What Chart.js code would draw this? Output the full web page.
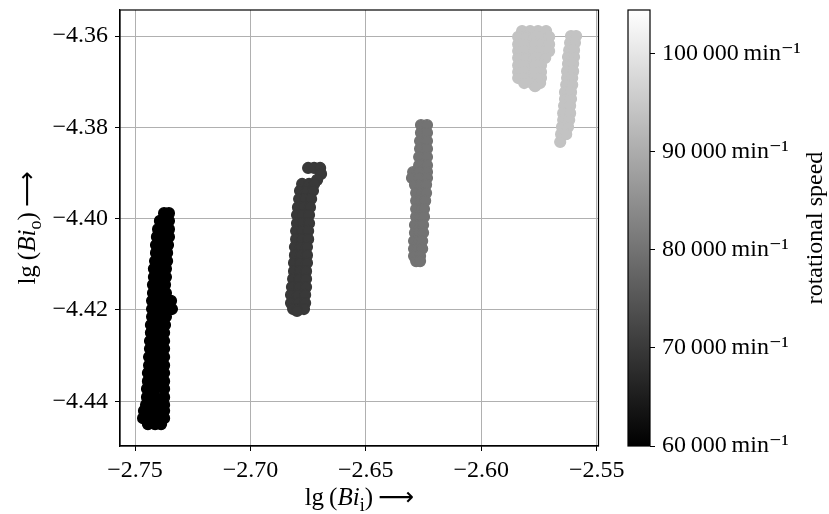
<!DOCTYPE html>
<html>
<head>
<meta charset="utf-8">
<script src="https://cdn.jsdelivr.net/npm/chart.js@4.4.1/dist/chart.umd.min.js"></script>
<style>
  html, body { margin: 0; padding: 0; background: #fff; }
  #wrap { position: relative; width: 829px; height: 514px; }
  #main { position: absolute; left: 0; top: 0; }
  #bar { position: absolute; left: 620px; top: 0; }
</style>
</head>
<body>
<div id="wrap">
  <canvas id="main" width="829" height="514"></canvas>
  <canvas id="bar" width="209" height="514"></canvas>
</div>
<script>
// axis ranges and ticks
const xMin = -2.7565, xMax = -2.5492;
const yMin = -4.4498, yMax = -4.3543;
const xTicks = [-2.75, -2.70, -2.65, -2.60, -2.55];
const yTicks = [-4.44, -4.42, -4.40, -4.38, -4.36];

// colorbar
const cbMin = 60000, cbMax = 104400;
const cbTicks = [60000, 70000, 80000, 90000, 100000];

// measured points, one row = [lg(Bi_o), lg(Bi_i) values...]
const rows60k = [
  [-4.3988, -2.7374, -2.7353],
  [-4.4005, -2.7392, -2.7353],
  [-4.4023, -2.7400, -2.7374, -2.7353],
  [-4.4040, -2.7405, -2.7379, -2.7353],
  [-4.4058, -2.7409, -2.7383, -2.7357],
  [-4.4075, -2.7409, -2.7383, -2.7361],
  [-4.4093, -2.7413, -2.7387, -2.7361],
  [-4.4110, -2.7418, -2.7392, -2.7366],
  [-4.4128, -2.7418, -2.7392, -2.7366],
  [-4.4145, -2.7422, -2.7396, -2.7370],
  [-4.4163, -2.7422, -2.7396, -2.7366],
  [-4.4180, -2.7426, -2.7396, -2.7361, -2.7344],
  [-4.4198, -2.7426, -2.7396, -2.7366, -2.7340],
  [-4.4215, -2.7426, -2.7396, -2.7366],
  [-4.4233, -2.7431, -2.7400, -2.7370],
  [-4.4250, -2.7431, -2.7405, -2.7374],
  [-4.4268, -2.7435, -2.7405, -2.7374],
  [-4.4285, -2.7435, -2.7405, -2.7374],
  [-4.4303, -2.7439, -2.7409, -2.7374],
  [-4.4321, -2.7439, -2.7409, -2.7374],
  [-4.4338, -2.7444, -2.7409, -2.7374],
  [-4.4356, -2.7444, -2.7409, -2.7374],
  [-4.4373, -2.7448, -2.7413, -2.7374],
  [-4.4391, -2.7448, -2.7413, -2.7374],
  [-4.4408, -2.7452, -2.7413, -2.7374],
  [-4.4421, -2.7461, -2.7426, -2.7400, -2.7374],
  [-4.4437, -2.7465, -2.7435, -2.7405, -2.7374],
  [-4.4450, -2.7444, -2.7413, -2.7387]
];

const rows70k = [
  [-4.3889, -2.6750, -2.6724, -2.6698],
  [-4.3902, -2.6694],
  [-4.3915, -2.6711],
  [-4.3924, -2.6776, -2.6746, -2.6724],
  [-4.3939, -2.6785, -2.6755, -2.6729],
  [-4.3957, -2.6789, -2.6763, -2.6737],
  [-4.3975, -2.6794, -2.6768, -2.6742],
  [-4.3992, -2.6798, -2.6772, -2.6746],
  [-4.4010, -2.6798, -2.6772, -2.6746],
  [-4.4027, -2.6802, -2.6776, -2.6750],
  [-4.4045, -2.6802, -2.6776, -2.6750],
  [-4.4062, -2.6807, -2.6781, -2.6755],
  [-4.4080, -2.6807, -2.6781, -2.6755],
  [-4.4097, -2.6811, -2.6785, -2.6755],
  [-4.4115, -2.6811, -2.6785, -2.6759],
  [-4.4132, -2.6815, -2.6789, -2.6759],
  [-4.4150, -2.6820, -2.6789, -2.6759],
  [-4.4167, -2.6824, -2.6794, -2.6763],
  [-4.4185, -2.6824, -2.6794, -2.6763],
  [-4.4198, -2.6815, -2.6789, -2.6768],
  [-4.4202, -2.6798]
];

const rows80k = [
  [-4.3795, -2.6261, -2.6235],
  [-4.3812, -2.6261, -2.6235],
  [-4.3830, -2.6265, -2.6235],
  [-4.3847, -2.6265, -2.6235],
  [-4.3865, -2.6269, -2.6235],
  [-4.3883, -2.6269, -2.6235],
  [-4.3898, -2.6295, -2.6269, -2.6235],
  [-4.3911, -2.6300, -2.6269, -2.6235],
  [-4.3926, -2.6287, -2.6261, -2.6239],
  [-4.3944, -2.6282, -2.6261, -2.6239],
  [-4.3961, -2.6282, -2.6261, -2.6243],
  [-4.3979, -2.6282, -2.6261, -2.6248],
  [-4.3996, -2.6282, -2.6265, -2.6248],
  [-4.4014, -2.6287, -2.6265, -2.6252],
  [-4.4031, -2.6287, -2.6269, -2.6252],
  [-4.4049, -2.6291, -2.6274, -2.6256],
  [-4.4066, -2.6291, -2.6274, -2.6256],
  [-4.4082, -2.6291, -2.6265],
  [-4.4093, -2.6282, -2.6265]
];

const rows94kBlock = [
  [-4.3589, -2.5823, -2.5788, -2.5754, -2.5719],
  [-4.3602, -2.5840, -2.5806, -2.5771, -2.5737, -2.5706],
  [-4.3618, -2.5840, -2.5806, -2.5771, -2.5737, -2.5706],
  [-4.3633, -2.5840, -2.5806, -2.5771, -2.5737, -2.5706],
  [-4.3648, -2.5840, -2.5806, -2.5771, -2.5737, -2.5723],
  [-4.3664, -2.5840, -2.5806, -2.5771, -2.5741],
  [-4.3679, -2.5840, -2.5806, -2.5771, -2.5741],
  [-4.3692, -2.5840, -2.5806, -2.5771, -2.5741],
  [-4.3703, -2.5814, -2.5780, -2.5745],
  [-4.3710, -2.5767]
];

const rows94kStrip = [
  [-4.3600, -2.5611, -2.5589],
  [-4.3615, -2.5615, -2.5594],
  [-4.3631, -2.5619, -2.5598],
  [-4.3646, -2.5624, -2.5598],
  [-4.3661, -2.5624, -2.5602],
  [-4.3677, -2.5628, -2.5602],
  [-4.3692, -2.5628, -2.5606],
  [-4.3707, -2.5632, -2.5606],
  [-4.3723, -2.5637, -2.5611],
  [-4.3738, -2.5637, -2.5611],
  [-4.3753, -2.5641, -2.5615],
  [-4.3769, -2.5645, -2.5615],
  [-4.3784, -2.5645, -2.5619],
  [-4.3799, -2.5650, -2.5624],
  [-4.3815, -2.5654, -2.5632],
  [-4.3832, -2.5658]
];

const speeds = [60000, 70000, 80000, 94000];
const clusters = [rows60k, rows70k, rows80k, rows94kBlock.concat(rows94kStrip)];

const FONT = "'Liberation Serif', 'DejaVu Serif', serif";

function gray(v) {
    const c = Math.round((v - cbMin) / (cbMax - cbMin) * 255);
    return `rgb(${c},${c},${c})`;
}

function toPoints(rows) {
    return rows.flatMap(([y, ...xs]) => xs.map(x => ({ x, y })));
}

const fmt2 = v => v.toFixed(2).replace('-', '\u2212');
const fmtSpeed = v => String(v).replace(/\B(?=(\d{3})+(?!\d))/g, '\u2009') + '\u2009min\u207B\u00B9';

// text with italic / subscript parts
function drawMixed(ctx, segs, cx, baseline, size) {
    const fontOf = s => s.st === 'it' ? `italic ${size}px ${FONT}`
        : s.st === 'sub' ? `${Math.round(size * 0.7)}px ${FONT}`
        : s.st === 'arrow' ? `${size}px 'DejaVu Sans'` : `${size}px ${FONT}`;
    let w = 0;
    segs.forEach(s => { ctx.font = fontOf(s); s.w = ctx.measureText(s.t).width; w += s.w; });
    let x = cx - w / 2;
    ctx.textAlign = 'left';
    ctx.textBaseline = 'alphabetic';
    segs.forEach(s => {
        ctx.font = fontOf(s);
        ctx.fillText(s.t, x, baseline + (s.st === 'sub' ? size * 0.22 : 0));
        x += s.w;
    });
}

const xTitle = [{ t: 'lg\u2009(' }, { t: 'Bi', st: 'it' }, { t: 'i', st: 'sub' }, { t: ')\u2009' }, { t: '\u27F6', st: 'arrow' }];
const yTitle = [{ t: 'lg\u2009(' }, { t: 'Bi', st: 'it' }, { t: 'o', st: 'sub' }, { t: ')\u2009' }, { t: '\u27F6', st: 'arrow' }];

const frameAndTitles = {
    id: 'frameAndTitles',
    afterDraw(chart) {
        const { ctx, chartArea: a } = chart;
        ctx.save();
        ctx.strokeStyle = '#000';
        ctx.lineWidth = 1.2;
        ctx.strokeRect(a.left, a.top, a.right - a.left, a.bottom - a.top);
        ctx.fillStyle = '#000';
        drawMixed(ctx, xTitle, (a.left + a.right) / 2, 505, 25);
        ctx.translate(35, (a.top + a.bottom) / 2);
        ctx.rotate(-Math.PI / 2);
        drawMixed(ctx, yTitle, 0, 0, 25);
        ctx.restore();
    }
};

const tickFont = { family: FONT, size: 24 };

new Chart(document.getElementById('main'), {
    type: 'scatter',
    data: {
        datasets: clusters.map((rows, i) => ({
            data: toPoints(rows),
            backgroundColor: gray(speeds[i]),
            borderColor: gray(speeds[i]),
            borderWidth: 1.4,
            pointRadius: 5.4,
            pointHoverRadius: 5.4
        }))
    },
    options: {
        responsive: false,
        animation: false,
        events: [],
        layout: { padding: { left: 0, top: 10, right: 230.5, bottom: 0 } },
        plugins: { legend: { display: false }, tooltip: { enabled: false } },
        scales: {
            x: {
                type: 'linear',
                min: xMin,
                max: xMax,
                afterBuildTicks: s => { s.ticks = xTicks.map(v => ({ value: v })); },
                afterFit: s => { s.height = 68; s.paddingLeft = 0; s.paddingRight = 0; },
                grid: { color: '#b0b0b0', lineWidth: 1, tickColor: '#000', tickLength: 5, tickWidth: 1 },
                border: { color: '#000', width: 1.2 },
                ticks: { font: tickFont, color: '#000', padding: 5, autoSkip: false, maxRotation: 0, callback: v => fmt2(v) }
            },
            y: {
                type: 'linear',
                min: yMin,
                max: yMax,
                afterBuildTicks: s => { s.ticks = yTicks.map(v => ({ value: v })); },
                afterFit: s => { s.width = 120; s.paddingTop = 0; s.paddingBottom = 0; },
                grid: { color: '#b0b0b0', lineWidth: 1, tickColor: '#000', tickLength: 5, tickWidth: 1 },
                border: { color: '#000', width: 1.2 },
                ticks: { font: tickFont, color: '#000', padding: 7, autoSkip: false, callback: v => fmt2(v) }
            }
        }
    },
    plugins: [frameAndTitles]
});

// colorbar
const colorbarDeco = {
    id: 'colorbarDeco',
    afterDraw(chart) {
        const { ctx, chartArea: a } = chart;
        ctx.save();
        ctx.strokeStyle = '#000';
        ctx.lineWidth = 1.2;
        ctx.strokeRect(a.left, a.top, a.right - a.left, a.bottom - a.top);
        ctx.fillStyle = '#000';
        ctx.translate(202, (a.top + a.bottom) / 2);
        ctx.rotate(-Math.PI / 2);
        ctx.font = `24px ${FONT}`;
        ctx.textAlign = 'center';
        ctx.textBaseline = 'alphabetic';
        ctx.fillText('rotational speed', 0, 0);
        ctx.restore();
    }
};

new Chart(document.getElementById('bar'), {
    type: 'bar',
    data: {
        labels: ['speed'],
        datasets: [{
            data: [[cbMin, cbMax]],
            barPercentage: 1,
            categoryPercentage: 1,
            borderWidth: 0,
            backgroundColor: ctx => {
                const a = ctx.chart.chartArea;
                if (!a) return '#888';
                const g = ctx.chart.ctx.createLinearGradient(0, a.bottom, 0, a.top);
                g.addColorStop(0, gray(cbMin));
                g.addColorStop(1, gray(cbMax));
                return g;
            }
        }]
    },
    options: {
        responsive: false,
        animation: false,
        events: [],
        layout: { padding: { left: 8, top: 10, right: 0, bottom: 68 } },
        plugins: { legend: { display: false }, tooltip: { enabled: false } },
        scales: {
            x: { display: false },
            y: {
                position: 'right',
                min: cbMin,
                max: cbMax,
                afterBuildTicks: s => { s.ticks = cbTicks.map(v => ({ value: v })); },
                afterFit: s => { s.width = 179; s.paddingTop = 0; s.paddingBottom = 0; },
                grid: { drawOnChartArea: false, tickColor: '#000', tickLength: 5, tickWidth: 1 },
                border: { display: false },
                ticks: { font: tickFont, color: '#000', padding: 7, autoSkip: false, callback: v => fmtSpeed(v) }
            }
        }
    },
    plugins: [colorbarDeco]
});
</script>
</body>
</html>
